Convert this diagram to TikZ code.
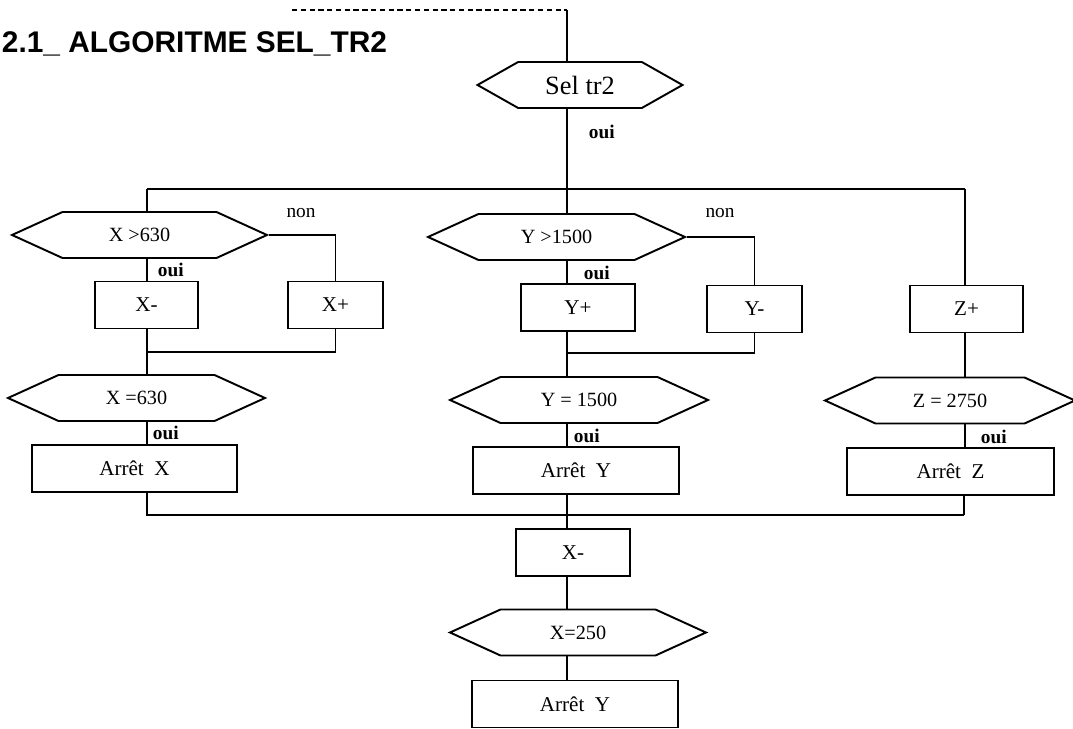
\documentclass[tikz,border=0pt]{standalone}
\usepackage{fontspec}
\setmainfont{Liberation Serif}
\newfontfamily\titrefont{Liberation Sans}
\usepackage{tikz}
\usetikzlibrary{shapes,shapes.symbols,positioning,calc}

\begin{document}
\begin{tikzpicture}[x=0.02cm, y=-0.02cm, line width=1.1pt,
    hexa/.style={signal, signal to=west and east, signal pointer angle=49, draw, inner sep=0pt,
        minimum height=0.92cm, minimum width=#1, font=\fontsize{11.5}{13}\selectfont},
    boite/.style={draw, inner sep=0pt, minimum height=0.94cm, minimum width=#1,
        font=\fontsize{12}{14}\selectfont},
    oui/.style={anchor=west, inner sep=0pt, font=\bfseries\fontsize{11}{13}\selectfont},
    non/.style={inner sep=0pt, font=\fontsize{11}{13}\selectfont}]
    \useasboundingbox (0,0) rectangle (1073,729);

    % titre
    \node[anchor=base west, inner sep=0pt, font=\titrefont\bfseries\fontsize{17}{20}\selectfont]
        (titre) at (1,53) {2.1\_ ALGORITME SEL\_TR2};

    % points de passage
    \coordinate (cdash) at (292,10);
    \coordinate (ctop) at (567,10);
    \coordinate (busL) at (147,189);
    \coordinate (busR) at (965,189);
    \coordinate (joinA) at (147,352);
    \coordinate (joinB) at (567,353);
    \coordinate (botL) at (147,515);
    \coordinate (botR) at (964,515);

    % depart
    \node[hexa=4.1cm, signal pointer angle=59, font=\fontsize{15}{17}\selectfont] (sel) at (580,85) {Sel tr2};
    \node[oui] at (588,132) {oui};

    % axe X
    \node[hexa=5.1cm] (hxA) at (139.5,235) {X >630};
    \node[boite=2.06cm] (bXm) at (146.5,305) {X-};
    \node[boite=1.9cm] (bXp) at (335.5,305) {X+};
    \node[hexa=5.14cm] (hxA2) at (136.5,398) {X =630};
    \node[boite=4.1cm] (bAX) at (134.5,468.5) {Arrêt~~X};
    \node[oui] at (157,270) {oui};
    \node[oui] at (152,433) {oui};
    \node[non] at (301,213) {non};

    % axe Y
    \node[hexa=5.14cm] (hxB) at (556.5,237) {Y >1500};
    \node[boite=2.28cm] (bYp) at (578,307.5) {Y+};
    \node[boite=1.9cm] (bYm) at (754.5,309) {Y-};
    \node[hexa=5.16cm] (hxB2) at (579,400) {Y = 1500};
    \node[boite=4.12cm] (bAY) at (576,470.5) {Arrêt~~Y};
    \node[oui] at (583,273) {oui};
    \node[oui] at (573,436) {oui};
    \node[non] at (720,213) {non};

    % axe Z
    \node[boite=2.26cm] (bZp) at (966.5,309) {Z+};
    \node[hexa=5cm] (hxC) at (950,400.5) {Z = 2750};
    \node[boite=4.14cm] (bAZ) at (950.5,471.5) {Arrêt~~Z};
    \node[oui] at (980,437) {oui};

    % retour X
    \node[boite=2.28cm] (bX2) at (573,552.5) {X-};
    \node[hexa=5.12cm] (hxD) at (578,632.5) {X=250};
    \node[boite=4.12cm] (bAY2) at (575,704) {Arrêt~~Y};

    % liaisons
    \draw[dash pattern=on 3pt off 2pt] (cdash) -- (ctop);
    \draw (ctop) -- (sel.north -| ctop);
    \draw (sel.south -| ctop) -- (ctop |- busL);
    \draw (busL) -- (busR);

    \draw (busL) -- (hxA.north -| busL);
    \draw (hxA.south -| busL) -- (bXm.north -| busL);
    \draw (hxA.east) -| (bXp.north);
    \draw (bXm.south -| busL) -- (joinA) -| (bXp.south);
    \draw (joinA) -- (hxA2.north -| busL);
    \draw (hxA2.south -| busL) -- (bAX.north -| busL);
    \draw (bAX.south -| busL) -- (botL) -- (botR);

    \draw (ctop |- busL) -- (hxB.north -| ctop);
    \draw (hxB.south -| ctop) -- (bYp.north -| ctop);
    \draw (hxB.east) -| (bYm.north);
    \draw (bYp.south -| ctop) -- (joinB) -| (bYm.south);
    \draw (joinB) -- (hxB2.north -| ctop);
    \draw (hxB2.south -| ctop) -- (bAY.north -| ctop);
    \draw (bAY.south -| ctop) -- (bX2.north -| ctop);
    \draw (bX2.south -| ctop) -- (hxD.north -| ctop);
    \draw (hxD.south -| ctop) -- (bAY2.north -| ctop);

    \draw (busR) -- (bZp.north -| busR);
    \draw (bZp.south -| busR) -- (hxC.north -| busR);
    \draw (hxC.south -| busR) -- (bAZ.north -| busR);
    \draw (bAZ.south -| botR) -- (botR);
\end{tikzpicture}
\end{document}
